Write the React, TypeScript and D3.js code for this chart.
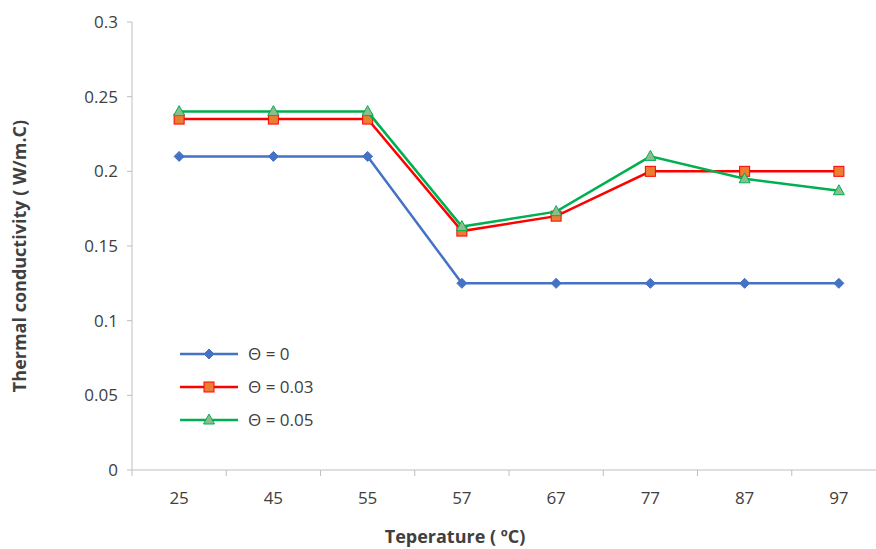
import * as d3 from 'd3';

const categories = ['25', '45', '55', '57', '67', '77', '87', '97'];
const theta0 = [0.21, 0.21, 0.21, 0.125, 0.125, 0.125, 0.125, 0.125];
const theta003 = [0.235, 0.235, 0.235, 0.16, 0.17, 0.2, 0.2, 0.2];
const theta005 = [0.24, 0.24, 0.24, 0.163, 0.173, 0.21, 0.195, 0.187];
const yTicks = [0, 0.05, 0.1, 0.15, 0.2, 0.25, 0.3];
const seriesNames = ['Θ = 0', 'Θ = 0.03', 'Θ = 0.05'];

const W = 876, H = 549;
const left = 132, right = 886, top = 22, bottom = 470;
const font = '"Open Sans", sans-serif';

export default function App() {
  const x = d3.scaleBand<string>().domain(categories).range([left, right]);
  const y = d3.scaleLinear().domain([0, 0.3]).range([bottom, top]);
  const cx = (c: string) => x(c)! + x.bandwidth() / 2;
  const line = d3.line<number>().x((_, i) => cx(categories[i])).y(d => y(d));
  const series = [
    { name: seriesNames[0], data: theta0, stroke: '#4472C4', fill: '#4472C4', shape: 'diamond' },
    { name: seriesNames[1], data: theta003, stroke: '#FF0000', fill: '#ED7D31', shape: 'square' },
    { name: seriesNames[2], data: theta005, stroke: '#00B050', fill: '#8FBC8F', shape: 'triangle' },
  ];
  const marker = (shape: string, px: number, py: number, s: any, k: number) => {
    if (shape === 'diamond')
      return <path key={k} d={`M${px},${py - 5}L${px + 5},${py}L${px},${py + 5}L${px - 5},${py}Z`} fill={s.fill} stroke={s.stroke} />;
    if (shape === 'square')
      return <rect key={k} x={px - 5} y={py - 5} width={10} height={10} fill={s.fill} stroke={s.stroke} />;
    return <path key={k} d={`M${px},${py - 6}L${px + 5.5},${py + 4}L${px - 5.5},${py + 4}Z`} fill={s.fill} stroke={s.stroke} />;
  };
  return (
    <svg width={W} height={H} style={{ position: 'absolute', left: 0, top: 0, background: '#fff' }} fontFamily={font}>
      <line x1={left} x2={left} y1={top} y2={bottom} stroke="#BFBFBF" />
      <line x1={left} x2={right} y1={bottom} y2={bottom} stroke="#BFBFBF" />
      {yTicks.map(t => (
        <g key={t}>
          <line x1={left - 5} x2={left} y1={y(t)} y2={y(t)} stroke="#BFBFBF" />
          <text x={left - 14} y={y(t)} dy="0.35em" textAnchor="end" fontSize={17} fill="#404040">{t}</text>
        </g>
      ))}
      {categories.map(c => (
        <g key={c}>
          <line x1={x(c)!} x2={x(c)!} y1={bottom} y2={bottom + 6} stroke="#BFBFBF" />
          <text x={cx(c)} y={bottom + 34} textAnchor="middle" fontSize={17} fill="#404040">{c}</text>
        </g>
      ))}
      {series.map(s => (
        <g key={s.name}>
          <path d={line(s.data)!} fill="none" stroke={s.stroke} strokeWidth={2.5} />
          {s.data.map((v, i) => marker(s.shape, cx(categories[i]), y(v), s, i))}
        </g>
      ))}
      {series.map((s, i) => {
        const ly = 354 + i * 33;
        return (
          <g key={s.name}>
            <line x1={180} x2={238} y1={ly} y2={ly} stroke={s.stroke} strokeWidth={2.5} />
            {marker(s.shape, 209, ly, s, 0)}
            <text x={248} y={ly} dy="0.35em" fontSize={17} fill="#404040">{s.name}</text>
          </g>
        );
      })}
      <text x={455} y={543} textAnchor="middle" fontSize={18} fontWeight="bold" fill="#404040">Teperature ( ºC)</text>
      <text transform={`translate(26,${(top + bottom) / 2 + 10}) rotate(-90)`} textAnchor="middle" fontSize={18} fontWeight="bold" fill="#404040">Thermal conductivity ( W/m.C)</text>
    </svg>
  );
}
